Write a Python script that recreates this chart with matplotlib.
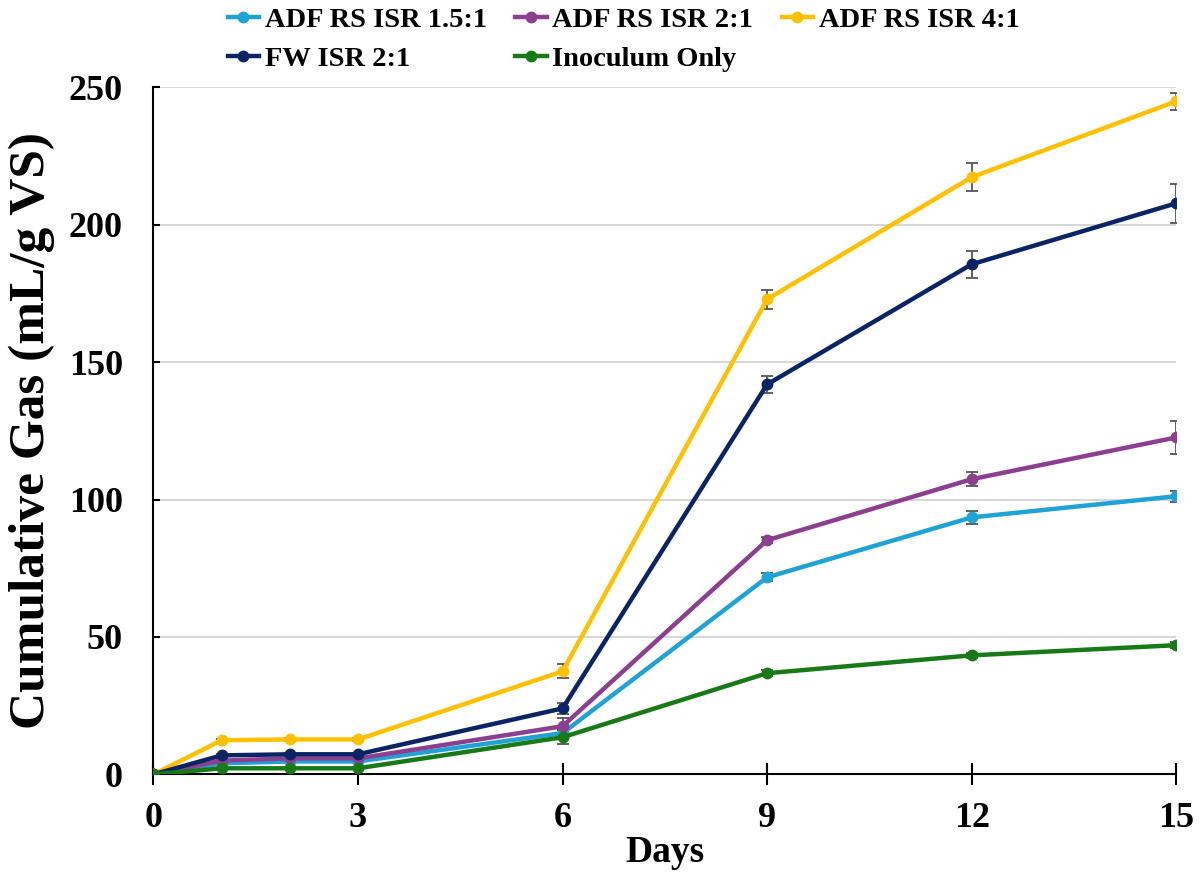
import matplotlib
matplotlib.use("Agg")
import matplotlib.pyplot as plt

plt.rcParams['font.family'] = ['Liberation Serif', 'DejaVu Serif']
plt.rcParams['font.weight'] = 'bold'

days = [0, 1, 2, 3, 6, 9, 12, 15]

labels = ["ADF RS ISR 1.5:1", "ADF RS ISR 2:1", "ADF RS ISR 4:1",
          "FW ISR 2:1", "Inoculum Only"]
colors = ["#1fa3d6", "#8c3f8f", "#ffc000", "#0a2466", "#177a17"]

rs_15 = [0, 4.0, 4.7, 4.7, 15.0, 71.7, 93.5, 101.2]
rs_2 = [0, 5.0, 5.8, 5.8, 17.5, 85.2, 107.4, 122.6]
rs_4 = [0, 12.4, 12.7, 12.7, 37.5, 172.9, 217.3, 244.9]
fw_2 = [0, 6.9, 7.3, 7.3, 24.0, 141.9, 185.6, 207.8]
inoc = [0, 2.2, 2.2, 2.2, 13.5, 36.8, 43.3, 47.0]

err_15 = [0, 0.5, 0.5, 0.5, 1.0, 1.5, 2.5, 2.0]
err_2 = [0, 0.5, 0.5, 0.5, 3.0, 1.0, 2.5, 6.0]
err_4 = [0, 0.5, 0.5, 0.5, 2.5, 3.5, 5.0, 3.0]
err_fw = [0, 0.5, 0.5, 0.5, 2.0, 3.0, 5.0, 7.0]
err_in = [0, 0.3, 0.3, 0.3, 2.5, 1.0, 1.0, 1.0]

series = [rs_15, rs_2, rs_4, fw_2, inoc]
errors = [err_15, err_2, err_4, err_fw, err_in]

fig = plt.figure(figsize=(11.99, 8.73), dpi=100)
ax = fig.add_axes([0.128, 0.113, 0.853, 0.787])

for y, e, c, lab in zip(series, errors, colors, labels):
    ax.errorbar(days, y, yerr=e, color=c, lw=3.2, marker='o', ms=7.5,
                ecolor='#555555', elinewidth=1.3, capsize=4, capthick=1.3,
                label=lab, zorder=3)

ax.set_xlim(0, 15)
ax.set_ylim(0, 250)
ax.set_xticks([0, 3, 6, 9, 12, 15])
ax.set_yticks([0, 50, 100, 150, 200, 250])
ax.grid(axis='y', color='#d0d0d0', lw=1.2)
ax.set_axisbelow(True)
ax.spines['top'].set_visible(False)
ax.spines['right'].set_visible(False)
ax.spines['left'].set_linewidth(1.5)
ax.spines['bottom'].set_linewidth(1.5)
ax.tick_params(axis='x', length=16, width=1.5, direction='inout', labelsize=26, pad=12)
ax.tick_params(axis='y', length=5, width=1.5, direction='in', labelsize=26, pad=22)
for t in ax.get_xticklabels() + ax.get_yticklabels():
    t.set_fontweight('bold')

ax.set_xlabel("Days", fontsize=27, fontweight='bold', labelpad=0)
ax.set_ylabel("Cumulative Gas (mL/g VS)", fontsize=37, fontweight='bold', labelpad=10)

# legend fills column-wise, so reorder to read row by row
handles, labs = ax.get_legend_handles_labels()
handles = [h[0] for h in handles]
order = [0, 3, 1, 4, 2]
fig.legend([handles[i] for i in order], [labs[i] for i in order],
           loc='upper left', bbox_to_anchor=(0.178, 1.008),
           ncol=3, frameon=False, handlelength=1.1, borderpad=0,
           handletextpad=0.2, columnspacing=1.0, labelspacing=0.45,
           prop={'weight': 'bold', 'size': 20.5})

fig.savefig("out.png", dpi=100)
